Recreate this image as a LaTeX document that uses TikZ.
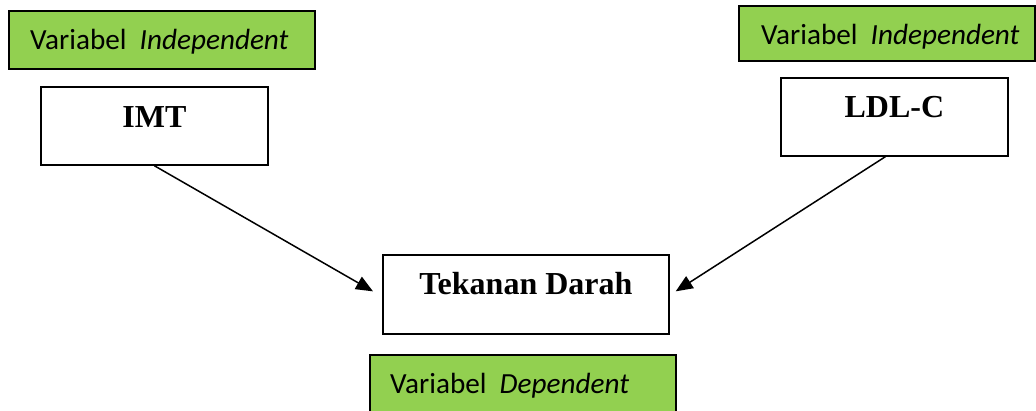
\documentclass[tikz,border=0pt]{standalone}
\usepackage{fontspec}
\setmainfont{Liberation Serif}
\newfontfamily\labelfont{Carlito}
\usetikzlibrary{arrows.meta,calc}
\definecolor{vargreen}{HTML}{92D050}
\begin{document}
\begin{tikzpicture}[x=1pt,y=-1pt,
  varbox/.style={draw=black, line width=1.7pt, fill=vargreen, inner sep=0pt, anchor=north west},
  itembox/.style={draw=black, line width=1.7pt, fill=white, inner sep=0pt, anchor=north west},
  vartext/.style={anchor=base west, inner sep=0pt, font=\labelfont\fontsize{29.2}{35}\selectfont},
  itemtext/.style={anchor=base, inner sep=0pt, font=\bfseries\fontsize{32}{38}\selectfont},
  link/.style={line width=1.5pt, -{Triangle[length=17pt,width=14pt]}}
]
\useasboundingbox (0,0) rectangle (1036,410);
\clip (0,0) rectangle (1036,410);

% green variable-type labels
\node[varbox, minimum width=306pt, minimum height=58pt] (gl) at (8,10) {};
\node[varbox, minimum width=296pt, minimum height=55pt] (gr) at (738,5) {};
\node[varbox, minimum width=306pt, minimum height=66pt] (gb) at (369,354) {};
\node[vartext] (glt) at ($(gl.north west)+(22,39)$) {Variabel\hskip0.45em\textit{Independent}};
\node[vartext] (grt) at ($(gr.north west)+(23,39)$) {Variabel\hskip0.45em\textit{Independent}};
\node[vartext] (gbt) at ($(gb.north west)+(21,39)$) {Variabel\hskip0.45em\textit{Dependent}};

% variable boxes
\node[itembox, minimum width=227pt, minimum height=78pt] (imt) at (40,86) {};
\node[itembox, minimum width=227pt, minimum height=78pt] (ldl) at (780,77) {};
\node[itembox, minimum width=286pt, minimum height=79pt] (td) at (382,254) {};
\node[itemtext] (imtt) at ($(imt.north)+(0,41)$) {IMT};
\node[itemtext] (ldlt) at ($(ldl.north)+(0,40)$) {LDL-C};
\node[itemtext] (tdt) at ($(td.north)+(0,40)$) {Tekanan Darah};

% influence arrows
\coordinate (imtout) at (imt.south);
\coordinate (ldlout) at ($(ldl.south)+(-9,0)$);
\coordinate (tdinl) at ($(td.west)+(-9,-3)$);
\coordinate (tdinr) at ($(td.east)+(6,-3)$);
\draw[link] (imtout) -- (tdinl);
\draw[link] (ldlout) -- (tdinr);
\end{tikzpicture}
\end{document}
